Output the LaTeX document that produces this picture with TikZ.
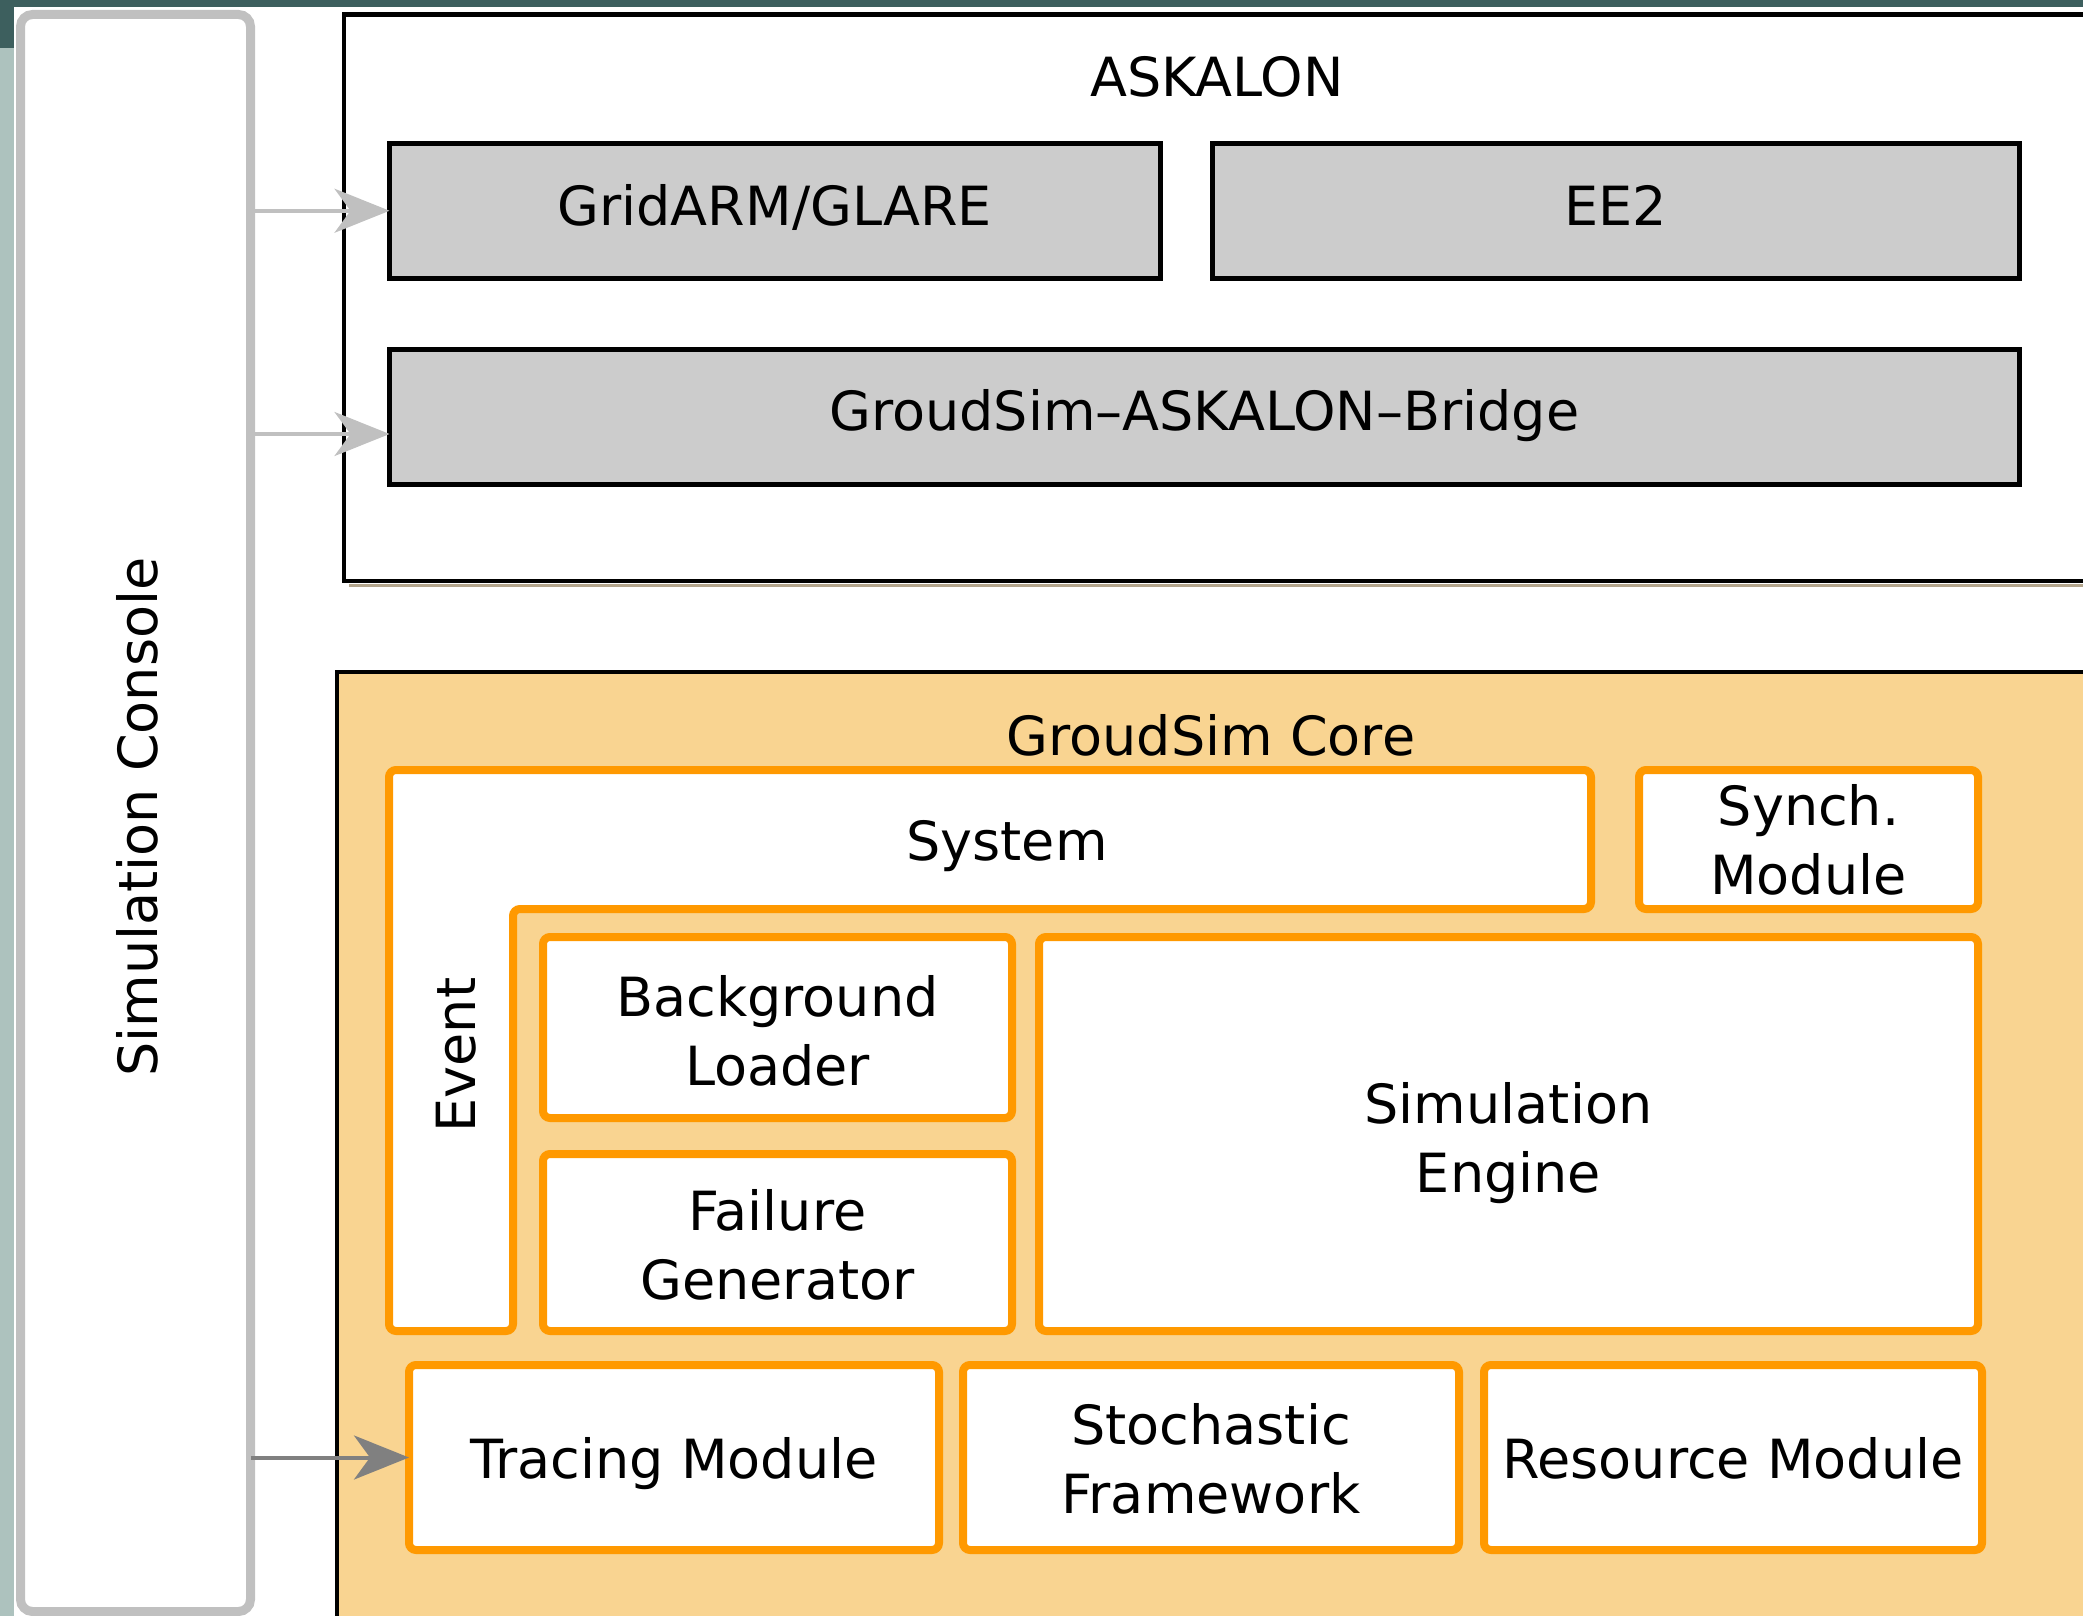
\documentclass[tikz,border=0pt]{standalone}
\usepackage{fontspec}
\setmainfont{DejaVu Sans}
\usetikzlibrary{arrows.meta,calc}
\definecolor{orng}{HTML}{FF9900}
\definecolor{corefill}{HTML}{F9D491}
\definecolor{boxgray}{HTML}{CCCCCC}
\definecolor{consgray}{HTML}{C0C0C0}
\definecolor{arrgray}{HTML}{808080}
\definecolor{tealdark}{HTML}{3D5F5E}
\definecolor{teallight}{HTML}{ADC2BE}
\definecolor{shadowc}{HTML}{B3A58C}
\begin{document}
\begin{tikzpicture}[x=1pt,y=-1pt,
  every node/.style={inner sep=0pt, outer sep=0pt, font=\fontsize{54}{69}\selectfont, align=center},
  sz/.style 2 args={minimum width=#1pt, minimum height=#2pt},
  graybox/.style={draw=black, line width=5pt, fill=boxgray, rectangle},
  orbox/.style={draw=orng, line width=8pt, fill=white, rounded corners=7pt, rectangle},
  arr/.style={line width=4pt, -{Stealth[length=55pt,width=44pt,inset=16pt]}},
]
\useasboundingbox (0,0) rectangle (2083,1616);
\clip (0,0) rectangle (2083,1616);
% background strips
\fill[teallight] (0,0) rectangle (14,1616);
\fill[tealdark] (0,0) rectangle (14,48);
\fill[tealdark] (0,0) rectangle (2083,7);

% Simulation Console
\node[draw=consgray, line width=9pt, fill=white, rounded corners=12pt, rectangle, sz={230}{1597}] (console) at (135.5,813) {};
\node[rotate=90] (consolelbl) at (137,817) {Simulation Console};

% ASKALON
\draw[shadowc, line width=3pt] (349,585.5) -- (2083,585.5);
\node[draw=black, line width=4.5pt, fill=white, rectangle, sz={1751}{566.5}] (askalon) at (1219.5,297.75) {};
\node (askalonlbl) at (1217,77) {ASKALON};
\node[graybox, sz={770.5}{134.5}] (grid) at (774.75,210.75) {};
\node (gridlbl) at ($(grid)+(0,-3)$) {GridARM/GLARE};
\node[graybox, sz={807}{134.5}] (ee2) at (1615.5,210.75) {};
\node (ee2lbl) at ($(ee2)+(0,-5)$) {EE2};
\node[graybox, sz={1629.5}{135}] (bridge) at (1204.25,416.5) {};
\node (bridgelbl) at ($(bridge)+(0,-1)$) {GroudSim–ASKALON–Bridge};

% GroudSim Core
\node[draw=black, line width=4.5pt, fill=corefill, rectangle, sz={1763}{958}] (core) at (1218.5,1151) {};
\node (corelbl) at (1211,735) {GroudSim Core};

% System / Event L-shape
\draw[draw=orng, line width=8pt, fill=white, rounded corners=7pt]
  (389,770) -- (1591,770) -- (1591,909) -- (513,909) -- (513,1331) -- (389,1331) -- cycle;
\node (systemlbl) at (1007,846) {System};
\node[rotate=90] (eventlbl) at (456,1055) {Event};

\node[orbox, sz={339}{139}] (synch) at (1808.5,839.5) {};
\node (synchlbl) at (synch) {Synch.\\Module};
\node[orbox, sz={469}{181}] (bgload) at (777.5,1027.5) {};
\node (bgloadlbl) at ($(bgload)+(0,3)$) {Background\\Loader};
\node[orbox, sz={469}{177}] (failure) at (777.5,1242.5) {};
\node (failurelbl) at ($(failure)+(0,2)$) {Failure\\Generator};
\node[orbox, sz={939}{394}] (simeng) at (1508.5,1134) {};
\node (simenglbl) at ($(simeng)+(0,9)$) {Simulation\\Engine};

\node[orbox, sz={530}{185}] (tracing) at (674,1457.5) {};
\node (tracinglbl) at ($(tracing)+(0,6)$) {Tracing Module};
\node[orbox, sz={496}{185}] (stoch) at (1211,1457.5) {};
\node (stochlbl) at ($(stoch)+(0,1)$) {Stochastic\\Framework};
\node[orbox, sz={498}{185}] (resource) at (1733,1457.5) {};
\node (resourcelbl) at ($(resource)+(0,1)$) {Resource Module};

% arrows
\coordinate (a2) at (0,434);
\draw[arr, consgray] (console.east |- grid.west) -- (grid.west);
\draw[arr, consgray] (console.east |- a2) -- (bridge.west |- a2);
\draw[arr, arrgray] (console.east |- tracing.west) -- (tracing.west);
\end{tikzpicture}
\end{document}
